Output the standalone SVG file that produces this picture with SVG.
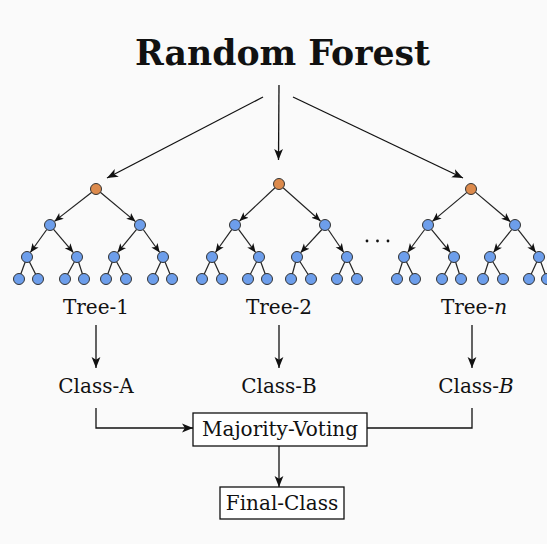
<svg xmlns="http://www.w3.org/2000/svg" width="547" height="544" viewBox="0 0 547 544">
  <defs>
    <marker id="arrow" viewBox="0 0 10 10" refX="10" refY="5" markerWidth="9" markerHeight="9" markerUnits="userSpaceOnUse" orient="auto">
      <path d="M0,0.8 L10,5 L0,9.2 L2.6,5 Z" fill="#111"/>
    </marker>
    <marker id="arrowBig" viewBox="0 0 10 10" refX="10" refY="5" markerWidth="11" markerHeight="11" markerUnits="userSpaceOnUse" orient="auto">
      <path d="M0,1 L10,5 L0,9 L2.6,5 Z" fill="#111"/>
    </marker>
  </defs>
  <style>
    .bg { fill: #fafafa; }
    .title { font-family: "DejaVu Serif", "Liberation Serif", serif; font-weight: bold; font-size: 36px; fill: #111; }
    .lbl { font-family: "DejaVu Serif", "Liberation Serif", serif; font-size: 20px; fill: #111; }
    .it { font-style: italic; }
    .edge { stroke: #111; stroke-width: 1.3; fill: none; }
    .tedge { stroke: #222; stroke-width: 1.2; fill: none; }
    .root { fill: #dc8a4c; stroke: #333; stroke-width: 1; }
    .leaf { fill: #6d9eeb; stroke: #333; stroke-width: 1; }
    .box { fill: #fff; stroke: #111; stroke-width: 1.3; }
  </style>
  <rect class="bg" x="0" y="0" width="547" height="544"/>

  <g id="title">
    <text class="title" x="282.5" y="65" text-anchor="middle" textLength="295" lengthAdjust="spacingAndGlyphs">Random Forest</text>
  </g>

  <!-- Tree 1 -->
  <g id="tree-1">
    <g class="tedge">
      <line x1="91.8" y1="192.3" x2="54.4" y2="221.4" marker-end="url(#arrow)"/>
      <line x1="100.3" y1="192.2" x2="135.5" y2="221.6" marker-end="url(#arrow)"/>
      <line x1="46.8" y1="229.5" x2="30.3" y2="252.5" marker-end="url(#arrow)"/>
      <line x1="53.4" y1="229.2" x2="73.4" y2="252.6" marker-end="url(#arrow)"/>
      <line x1="136.6" y1="229.3" x2="117.5" y2="252.6" marker-end="url(#arrow)"/>
      <line x1="143.2" y1="229.5" x2="159.7" y2="252.5" marker-end="url(#arrow)"/>
      <line x1="27" y1="257" x2="19" y2="279"/>
      <line x1="27" y1="257" x2="38" y2="279"/>
      <line x1="77" y1="257" x2="65" y2="279"/>
      <line x1="77" y1="257" x2="84" y2="279"/>
      <line x1="114" y1="257" x2="106" y2="279"/>
      <line x1="114" y1="257" x2="126" y2="279"/>
      <line x1="163" y1="257" x2="153" y2="279"/>
      <line x1="163" y1="257" x2="172" y2="279"/>
    </g>
    <circle class="root" cx="96" cy="189" r="5.5"/>
    <circle class="leaf" cx="50" cy="225" r="5.5"/>
    <circle class="leaf" cx="140" cy="225" r="5.5"/>
    <circle class="leaf" cx="27" cy="257" r="5.5"/>
    <circle class="leaf" cx="77" cy="257" r="5.5"/>
    <circle class="leaf" cx="114" cy="257" r="5.5"/>
    <circle class="leaf" cx="163" cy="257" r="5.5"/>
    <circle class="leaf" cx="19" cy="279" r="5.5"/>
    <circle class="leaf" cx="38" cy="279" r="5.5"/>
    <circle class="leaf" cx="65" cy="279" r="5.5"/>
    <circle class="leaf" cx="84" cy="279" r="5.5"/>
    <circle class="leaf" cx="106" cy="279" r="5.5"/>
    <circle class="leaf" cx="126" cy="279" r="5.5"/>
    <circle class="leaf" cx="153" cy="279" r="5.5"/>
    <circle class="leaf" cx="172" cy="279" r="5.5"/>
  </g>

  <!-- Tree 2 -->
  <g id="tree-2">
    <g class="tedge">
      <line x1="275" y1="187.8" x2="239.5" y2="221.1" marker-end="url(#arrow)"/>
      <line x1="283.1" y1="187.7" x2="320.5" y2="221" marker-end="url(#arrow)"/>
      <line x1="231.9" y1="229.3" x2="215.4" y2="252.5" marker-end="url(#arrow)"/>
      <line x1="238.4" y1="229.2" x2="255.6" y2="252.5" marker-end="url(#arrow)"/>
      <line x1="321.9" y1="229.5" x2="300.6" y2="252.7" marker-end="url(#arrow)"/>
      <line x1="328.2" y1="229.5" x2="343.8" y2="252.5" marker-end="url(#arrow)"/>
      <line x1="212" y1="257" x2="202" y2="279"/>
      <line x1="212" y1="257" x2="222" y2="279"/>
      <line x1="259" y1="257" x2="248" y2="279"/>
      <line x1="259" y1="257" x2="267" y2="279"/>
      <line x1="297" y1="257" x2="291" y2="279"/>
      <line x1="297" y1="257" x2="311" y2="279"/>
      <line x1="347" y1="257" x2="337" y2="279"/>
      <line x1="347" y1="257" x2="357" y2="279"/>
    </g>
    <circle class="root" cx="279" cy="184" r="5.5"/>
    <circle class="leaf" cx="235" cy="225" r="5.5"/>
    <circle class="leaf" cx="325" cy="225" r="5.5"/>
    <circle class="leaf" cx="212" cy="257" r="5.5"/>
    <circle class="leaf" cx="259" cy="257" r="5.5"/>
    <circle class="leaf" cx="297" cy="257" r="5.5"/>
    <circle class="leaf" cx="347" cy="257" r="5.5"/>
    <circle class="leaf" cx="202" cy="279" r="5.5"/>
    <circle class="leaf" cx="222" cy="279" r="5.5"/>
    <circle class="leaf" cx="248" cy="279" r="5.5"/>
    <circle class="leaf" cx="267" cy="279" r="5.5"/>
    <circle class="leaf" cx="291" cy="279" r="5.5"/>
    <circle class="leaf" cx="311" cy="279" r="5.5"/>
    <circle class="leaf" cx="337" cy="279" r="5.5"/>
    <circle class="leaf" cx="357" cy="279" r="5.5"/>
  </g>

  <!-- ellipsis between the trees -->
  <g id="ellipsis" fill="#111">
    <circle cx="367" cy="241" r="1.4"/>
    <circle cx="377.5" cy="241" r="1.4"/>
    <circle cx="388" cy="241" r="1.4"/>
  </g>

  <!-- Tree n -->
  <g id="tree-n">
    <g class="tedge">
      <line x1="466.9" y1="192.4" x2="432.3" y2="221.4" marker-end="url(#arrow)"/>
      <line x1="475.4" y1="192.1" x2="510.5" y2="221.8" marker-end="url(#arrow)"/>
      <line x1="424.7" y1="229.5" x2="407.6" y2="252.5" marker-end="url(#arrow)"/>
      <line x1="431.4" y1="229.3" x2="450.5" y2="252.6" marker-end="url(#arrow)"/>
      <line x1="511.8" y1="229.5" x2="493.4" y2="252.5" marker-end="url(#arrow)"/>
      <line x1="518.1" y1="229.6" x2="535.8" y2="252.4" marker-end="url(#arrow)"/>
      <line x1="404" y1="257" x2="397" y2="279"/>
      <line x1="404" y1="257" x2="415" y2="279"/>
      <line x1="454" y1="257" x2="442" y2="279"/>
      <line x1="454" y1="257" x2="461" y2="279"/>
      <line x1="490" y1="257" x2="483" y2="279"/>
      <line x1="490" y1="257" x2="503" y2="279"/>
      <line x1="539" y1="257" x2="529" y2="279"/>
      <line x1="539" y1="257" x2="547" y2="279"/>
    </g>
    <circle class="root" cx="471" cy="189" r="5.5"/>
    <circle class="leaf" cx="428" cy="225" r="5.5"/>
    <circle class="leaf" cx="515" cy="225" r="5.5"/>
    <circle class="leaf" cx="404" cy="257" r="5.5"/>
    <circle class="leaf" cx="454" cy="257" r="5.5"/>
    <circle class="leaf" cx="490" cy="257" r="5.5"/>
    <circle class="leaf" cx="539" cy="257" r="5.5"/>
    <circle class="leaf" cx="397" cy="279" r="5.5"/>
    <circle class="leaf" cx="415" cy="279" r="5.5"/>
    <circle class="leaf" cx="442" cy="279" r="5.5"/>
    <circle class="leaf" cx="461" cy="279" r="5.5"/>
    <circle class="leaf" cx="483" cy="279" r="5.5"/>
    <circle class="leaf" cx="503" cy="279" r="5.5"/>
    <circle class="leaf" cx="529" cy="279" r="5.5"/>
    <circle class="leaf" cx="547" cy="279" r="5.5"/>
  </g>

  <!-- tree labels -->
  <g id="label-tree-1"><text class="lbl" x="96" y="314" text-anchor="middle">Tree-1</text></g>
  <g id="label-tree-2"><text class="lbl" x="279" y="314" text-anchor="middle">Tree-2</text></g>
  <g id="label-tree-n"><text class="lbl" x="474" y="314" text-anchor="middle">Tree-<tspan class="it">n</tspan></text></g>

  <!-- class labels -->
  <g id="class-1"><text class="lbl" x="96" y="393" text-anchor="middle">Class-A</text></g>
  <g id="class-2"><text class="lbl" x="279" y="393" text-anchor="middle">Class-B</text></g>
  <g id="class-n"><text class="lbl" x="476" y="393" text-anchor="middle">Class-<tspan class="it">B</tspan></text></g>

  <!-- voting and result boxes -->
  <g id="majority-voting">
    <rect class="box" x="193" y="413" width="174" height="33"/>
    <text class="lbl" x="280" y="436" text-anchor="middle">Majority-Voting</text>
  </g>
  <g id="final-class">
    <rect class="box" x="220" y="487" width="124" height="32"/>
    <text class="lbl" x="282" y="510" text-anchor="middle">Final-Class</text>
  </g>

  <!-- connectors -->
  <g id="connectors" class="edge">
    <line x1="263" y1="97" x2="107" y2="178" marker-end="url(#arrowBig)"/>
    <line x1="279" y1="85" x2="278.5" y2="160" marker-end="url(#arrowBig)"/>
    <line x1="293" y1="97" x2="463" y2="178" marker-end="url(#arrowBig)"/>
    <line x1="96" y1="325" x2="96" y2="368" marker-end="url(#arrowBig)"/>
    <line x1="279" y1="325" x2="279" y2="368" marker-end="url(#arrowBig)"/>
    <line x1="472" y1="325" x2="472" y2="368" marker-end="url(#arrowBig)"/>
    <polyline points="96,408 96,428 193,428" marker-end="url(#arrowBig)"/>
    <polyline points="472,408 472,428 367,428"/>
    <line x1="279" y1="446" x2="279" y2="487" marker-end="url(#arrowBig)"/>
  </g>
</svg>
